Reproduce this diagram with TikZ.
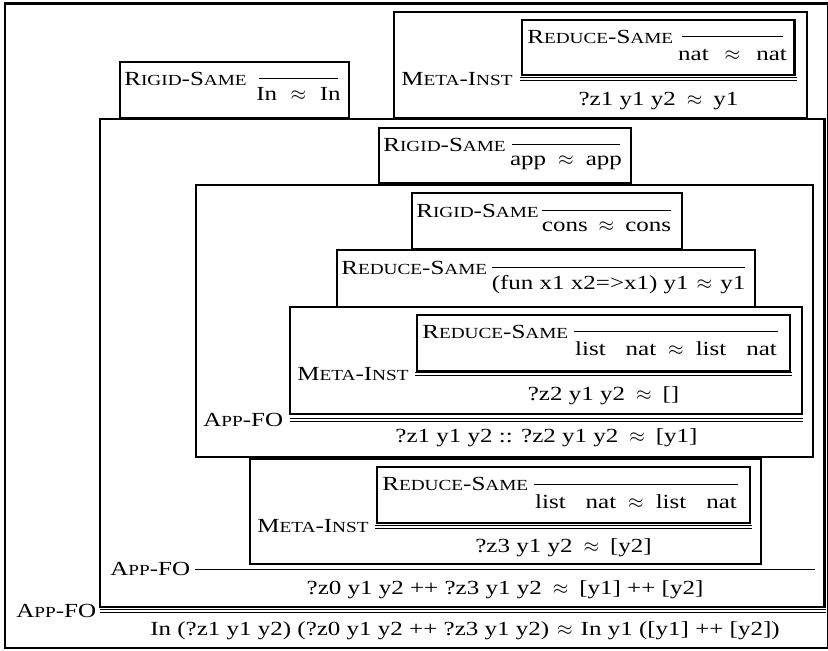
\documentclass[tikz,border=0pt]{standalone}
\usepackage{fontspec}
\setmainfont{Liberation Serif}[FakeStretch=1.25]
\usepackage{tikz}

\newcommand\scname[2]{#1{\fontsize{7.7}{9}\selectfont #2}}
\newcommand\rigidsame{\scname{R}{IGID}-\scname{S}{AME}}
\newcommand\reducesame{\scname{R}{EDUCE}-\scname{S}{AME}}
\newcommand\metainst{\scname{M}{ETA}-\scname{I}{NST}}
\newcommand\appfo{\scname{A}{PP}-FO}
\newcommand\apxw[1]{\hspace{#1}$\approx$\hspace{#1}}
\newcommand\apx{\apxw{5.5pt}}
\newcommand\lnat{list\hspace{10pt}nat}

\begin{document}
\begin{tikzpicture}[x=0.5pt, y=-0.5pt, font=\fontsize{10}{12}\selectfont]
    % Styles
    \tikzstyle{box} = [draw, line width=1.2pt]
    \tikzstyle{bar} = [line width=0.5pt]
    \tikzstyle{dbar} = [double, double distance=1pt, line width=0.5pt]
    \tikzstyle{rname} = [anchor=west, inner sep=0pt]
    \tikzstyle{concl} = [anchor=base, inner sep=0pt]

    \useasboundingbox (0,0) rectangle (828,651);
    \draw[box] (5,3.5) rectangle (828,648);

    % Rigid-Same In
    \draw[box] (120,62) rectangle (349,118);
    \node[rname] (rsIn) at (124,79) {\rigidsame};
    \draw[bar] (259,79) -- (338,79);
    \node[concl] (cIn) at (298.5,101) {In\apxw{6.75pt}In};

    % Meta-Inst ?z1
    \draw[box] (394,12) rectangle (807,118);
    \draw[box] (522,20) rectangle (794.5,75);
    \node[rname] (rsNat) at (527,37) {\reducesame};
    \draw[bar] (682,37) -- (783,37);
    \node[concl] (cNat) at (732.5,61) {nat\apxw{8pt}nat};
    \draw[dbar] (520,79.5) -- (797,79.5);
    \node[rname] (miOne) at (401,79.5) {\metainst};
    \node[concl] (cOne) at (658.5,105.5) {?z1 y1 y2\apx y1};

    % App-FO (middle)
    \draw[box] (100,119) rectangle (824.5,607);

    % Rigid-Same app
    \draw[box] (379,128) rectangle (631,183);
    \node[rname] (rsApp) at (383,145) {\rigidsame};
    \draw[bar] (512,145) -- (620,145);
    \node[concl] (cApp) at (566,166) {app\apxw{6pt}app};

    % App-FO (cons)
    \draw[box] (196,185) rectangle (813,457);

    \draw[box] (412,193) rectangle (682,249);
    \node[rname] (rsCons) at (416,210.5) {\rigidsame};
    \draw[bar] (542,210.5) -- (671,210.5);
    \node[concl] (cCons) at (606.5,232) {cons\apx cons};

    \draw[box] (337,250) rectangle (755,307);
    \node[rname] (rsFun) at (341,267.5) {\reducesame};
    \draw[bar] (492,267.5) -- (745,267.5);
    \node[concl] (cFun) at (618.5,290) {(fun x1 x2=>x1) y1\apxw{4pt}y1};

    % Meta-Inst ?z2
    \draw[box] (290,307) rectangle (802,414);
    \draw[box] (417,315) rectangle (790,371);
    \node[rname] (rsListA) at (422,332) {\reducesame};
    \draw[bar] (574,332) -- (778,332);
    \node[concl] (cListA) at (676,356) {\lnat\apxw{6pt}\lnat};
    \draw[dbar] (415,374.5) -- (792,374.5);
    \node[rname] (miTwo) at (297,374.5) {\metainst};
    \node[concl] (cTwo) at (603.5,400.5) {?z2 y1 y2\apx []};

    \draw[dbar] (290,420) -- (803,420);
    \node[rname] (afCons) at (203,420) {\appfo};
    \node[concl] (cCons2) at (546.5,442) {?z1 y1 y2 :: ?z2 y1 y2\apx [y1]};

    % Meta-Inst ?z3
    \draw[box] (250,459) rectangle (761,564);
    \draw[box] (377,467) rectangle (750,523);
    \node[rname] (rsListB) at (382,484) {\reducesame};
    \draw[bar] (534,484) -- (738,484);
    \node[concl] (cListB) at (636,508) {\lnat\apxw{6pt}\lnat};
    \draw[dbar] (375,526.5) -- (752,526.5);
    \node[rname] (miThree) at (257,526.5) {\metainst};
    \node[concl] (cThree) at (563.5,552.5) {?z3 y1 y2\apx [y2]};

    \draw[bar] (195,569) -- (815,569);
    \node[rname] (afApp) at (110,569) {\appfo};
    \node[concl] (cAppend) at (505,594) {?z0 y1 y2 ++ ?z3 y1 y2\apx [y1] ++ [y2]};

    % App-FO (root)
    \draw[dbar] (100,611) -- (826,611);
    \node[rname] (afRoot) at (16,611) {\appfo};
    \node[concl] (cRoot) at (465,635) {In (?z1 y1 y2) (?z0 y1 y2 ++ ?z3 y1 y2)\apxw{4pt}In y1 ([y1] ++ [y2])};
\end{tikzpicture}
\end{document}
